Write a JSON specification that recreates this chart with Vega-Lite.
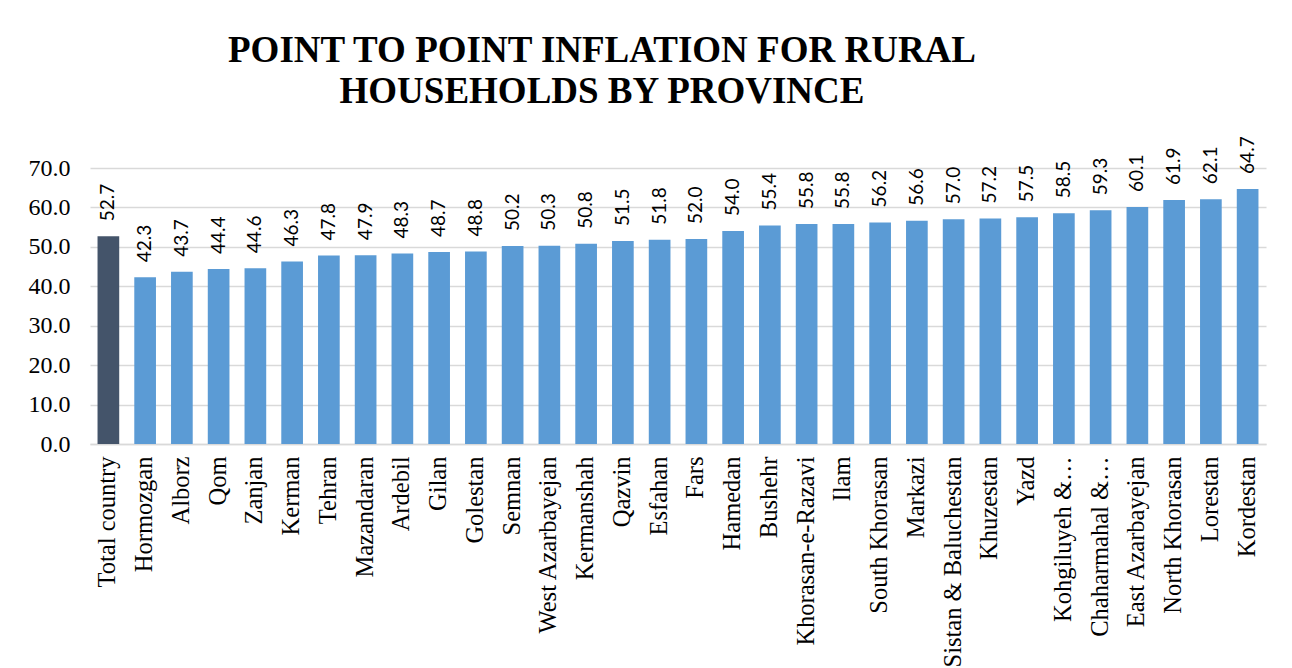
{
  "$schema": "https://vega.github.io/schema/vega-lite/v6.json",
  "autosize": "none",
  "width": 1176,
  "height": 276,
  "padding": {"left": 90, "top": 168, "right": 26, "bottom": 224},
  "background": "white",
  "title": {
    "text": ["POINT TO POINT INFLATION FOR RURAL", "HOUSEHOLDS BY PROVINCE"],
    "font": "Liberation Serif",
    "fontSize": 37,
    "fontWeight": "bold",
    "color": "#000000",
    "anchor": "middle",
    "frame": "group",
    "dx": -76,
    "lineHeight": 41,
    "offset": 25
  },
  "data": {
    "values": [
      {"province": "Total country", "value": 52.7, "group": "Total"},
      {"province": "Hormozgan", "value": 42.3, "group": "Province"},
      {"province": "Alborz", "value": 43.7, "group": "Province"},
      {"province": "Qom", "value": 44.4, "group": "Province"},
      {"province": "Zanjan", "value": 44.6, "group": "Province"},
      {"province": "Kerman", "value": 46.3, "group": "Province"},
      {"province": "Tehran", "value": 47.8, "group": "Province"},
      {"province": "Mazandaran", "value": 47.9, "group": "Province"},
      {"province": "Ardebil", "value": 48.3, "group": "Province"},
      {"province": "Gilan", "value": 48.7, "group": "Province"},
      {"province": "Golestan", "value": 48.8, "group": "Province"},
      {"province": "Semnan", "value": 50.2, "group": "Province"},
      {"province": "West Azarbayejan", "value": 50.3, "group": "Province"},
      {"province": "Kermanshah", "value": 50.8, "group": "Province"},
      {"province": "Qazvin", "value": 51.5, "group": "Province"},
      {"province": "Esfahan", "value": 51.8, "group": "Province"},
      {"province": "Fars", "value": 52.0, "group": "Province"},
      {"province": "Hamedan", "value": 54.0, "group": "Province"},
      {"province": "Bushehr", "value": 55.4, "group": "Province"},
      {"province": "Khorasan-e-Razavi", "value": 55.8, "group": "Province"},
      {"province": "Ilam", "value": 55.8, "group": "Province"},
      {"province": "South Khorasan", "value": 56.2, "group": "Province"},
      {"province": "Markazi", "value": 56.6, "group": "Province"},
      {"province": "Sistan & Baluchestan", "value": 57.0, "group": "Province"},
      {"province": "Khuzestan", "value": 57.2, "group": "Province"},
      {"province": "Yazd", "value": 57.5, "group": "Province"},
      {"province": "Kohgiluyeh &…", "value": 58.5, "group": "Province"},
      {"province": "Chaharmahal &…", "value": 59.3, "group": "Province"},
      {"province": "East Azarbayejan", "value": 60.1, "group": "Province"},
      {"province": "North Khorasan", "value": 61.9, "group": "Province"},
      {"province": "Lorestan", "value": 62.1, "group": "Province"},
      {"province": "Kordestan", "value": 64.7, "group": "Province"}
    ]
  },
  "encoding": {
    "x": {
      "field": "province",
      "type": "nominal",
      "sort": null,
      "scale": {"paddingInner": 0.41, "paddingOuter": 0.205},
      "axis": {
        "title": null,
        "labelAngle": -90,
        "labelFont": "Liberation Serif",
        "labelFontSize": 24.5,
        "labelColor": "#000000",
        "labelPadding": 12,
        "labelLimit": 300,
        "ticks": false,
        "domainColor": "#D9D9D9",
        "domainWidth": 1.5,
        "grid": false
      }
    },
    "y": {
      "field": "value",
      "type": "quantitative",
      "scale": {"domain": [0, 70], "nice": false},
      "axis": {
        "title": null,
        "values": [0, 10, 20, 30, 40, 50, 60, 70],
        "format": ".1f",
        "labelFont": "Liberation Serif",
        "labelFontSize": 24,
        "labelColor": "#000000",
        "labelPadding": 20,
        "ticks": false,
        "domain": false,
        "grid": true,
        "gridColor": "#D9D9D9",
        "gridWidth": 1.5
      }
    }
  },
  "layer": [
    {
      "mark": {"type": "bar"},
      "encoding": {
        "color": {
          "field": "group",
          "type": "nominal",
          "scale": {"domain": ["Total", "Province"], "range": ["#44546A", "#5B9BD5"]},
          "legend": null
        }
      }
    },
    {
      "mark": {
        "type": "text",
        "angle": 270,
        "align": "left",
        "baseline": "middle",
        "dx": 15,
        "font": "Lato",
        "fontSize": 19,
        "color": "#000000"
      },
      "encoding": {
        "text": {"field": "value", "type": "quantitative", "format": ".1f"}
      }
    }
  ],
  "config": {"view": {"stroke": null}}
}
